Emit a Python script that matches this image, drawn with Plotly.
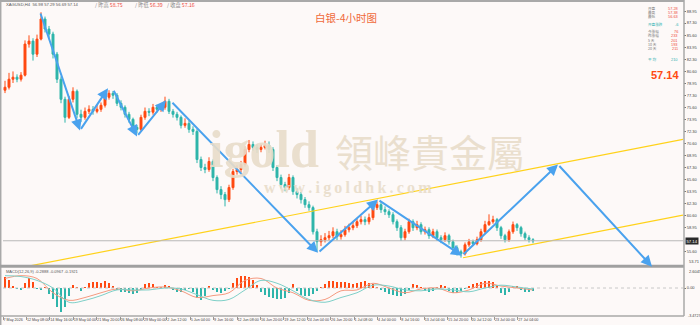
import plotly.graph_objects as go

W, H = 700, 325

# ---------------- data ----------------
first_open = 78.00
closes = [78.41, 79.52, 79.80, 79.52, 80.08, 84.39, 84.80, 82.99, 85.08, 87.86,
          86.47, 85.77, 82.99, 79.52, 76.74, 74.24, 76.74, 77.85, 74.66, 74.24,
          75.07, 75.35, 75.07, 75.35, 75.91, 77.02, 77.57, 77.30, 76.18, 75.63,
          74.66, 73.96, 72.85, 72.57, 74.24, 75.07, 74.95, 75.63, 75.35, 75.63,
          76.46, 75.07, 74.66, 74.24, 73.13, 73.40, 72.57, 72.29, 68.40, 67.29,
          67.01, 68.12, 65.90, 64.23, 63.54, 62.84, 64.51, 66.73, 67.01, 67.70,
          69.79, 70.48, 70.07, 69.79, 70.07, 70.35, 69.79, 67.29, 65.90, 64.92,
          64.51, 65.90, 63.95, 63.54, 62.84, 62.14, 61.73, 58.39, 57.00, 57.28,
          57.56, 57.84, 58.39, 57.70, 57.98, 58.67, 58.95, 59.23, 59.78, 60.06,
          59.78, 60.34, 61.73, 62.14, 61.45, 61.17, 60.75, 59.78, 58.95, 57.56,
          58.39, 59.78, 58.95, 59.37, 58.39, 58.67, 57.84, 58.39, 57.56, 57.28,
          57.84, 57.00, 56.17, 55.61, 55.33, 56.58, 57.00, 56.72, 57.28, 58.39,
          59.37, 59.78, 60.06, 58.95, 57.84, 57.28, 58.39, 59.37, 58.95, 58.12,
          57.56, 57.28, 57.14]
highs = [79.3, 80.4, 80.6, 80.2, 80.5, 84.9, 85.6, 85.2, 85.7, 88.8,
         88.2, 86.9, 86.1, 83.3, 79.9, 77.1, 77.2, 78.4, 78.1, 75.3,
         75.6, 75.9, 75.8, 76.0, 76.3, 77.5, 78.0, 77.9, 77.6, 76.6,
         75.9, 75.0, 74.2, 73.2, 74.6, 75.6, 75.5, 76.1, 76.0, 76.2,
         77.1, 76.8, 75.4, 75.0, 74.5, 74.1, 73.8, 73.0, 72.6, 68.8,
         67.8, 68.7, 68.4, 66.2, 64.7, 63.9, 64.9, 67.1, 67.6, 68.2,
         70.2, 71.1, 70.9, 70.5, 70.6, 71.0, 70.9, 70.1, 67.6, 66.3,
         65.3, 66.4, 66.2, 64.4, 63.9, 63.2, 62.6, 62.0, 58.8, 57.9,
         58.2, 58.5, 59.0, 58.8, 58.6, 59.2, 59.5, 59.8, 60.3, 60.6,
         60.5, 60.9, 62.3, 62.6, 62.5, 61.9, 61.5, 61.1, 60.1, 59.3,
         58.8, 60.2, 60.1, 59.9, 59.7, 59.1, 59.0, 58.8, 58.7, 57.9,
         58.3, 58.1, 57.3, 56.5, 55.9, 56.9, 57.4, 57.3, 57.7, 58.8,
         59.9, 60.8, 60.6, 60.3, 59.2, 58.1, 58.7, 59.8, 59.6, 59.2,
         58.4, 57.9, 57.5]
lows = [77.6, 78.1, 79.0, 79.1, 79.2, 79.9, 83.9, 82.1, 82.6, 84.9,
        86.0, 85.2, 82.4, 79.0, 76.2, 73.5, 74.0, 76.3, 74.1, 73.6,
        73.9, 74.7, 74.6, 74.8, 75.0, 75.6, 76.7, 76.8, 75.8, 75.2,
        74.2, 73.5, 72.4, 72.0, 72.3, 73.9, 74.4, 74.6, 74.9, 75.0,
        75.3, 74.7, 74.2, 73.8, 72.7, 72.8, 72.1, 71.8, 67.9, 66.8,
        66.5, 66.7, 65.4, 63.7, 62.9, 61.9, 62.5, 64.2, 66.3, 66.6,
        67.4, 69.4, 69.6, 69.3, 69.4, 69.8, 69.3, 66.8, 65.4, 64.4,
        64.0, 64.2, 63.5, 63.0, 62.3, 61.7, 61.3, 58.0, 55.6, 56.4,
        56.9, 57.2, 57.5, 57.2, 57.3, 57.7, 58.3, 58.6, 58.9, 59.4,
        59.3, 59.4, 60.0, 61.4, 61.0, 60.7, 60.3, 59.4, 58.5, 57.1,
        57.2, 58.1, 58.5, 58.6, 58.0, 58.0, 57.4, 57.5, 57.1, 56.8,
        57.0, 56.6, 55.8, 55.1, 54.8, 55.1, 56.3, 56.4, 56.5, 57.0,
        58.1, 59.2, 59.5, 58.5, 57.4, 56.9, 57.0, 58.1, 58.5, 57.7,
        57.2, 56.9, 56.8]
opens = [first_open] + closes[:-1]
bar_idx = list(range(len(closes)))

macd_hist = [1.42, 0.94, 0.24, -0.12, -0.24, 0.59, 1.18, 0.71, -0.12, -0.20,
             0.05, -0.70, -1.42, -2.36, -2.95, -2.36, -0.94, 0.35, 0.12, -0.35,
             0.05, 0.59, 0.71, 0.71, 0.66, 0.83, 0.59, 0.24, -0.24, -0.47,
             -0.50, -0.59, -0.80, -0.59, -0.20, 0.47, 0.59, 0.47, 0.10, 0.03,
             0.35, 0.20, -0.24, -0.47, -0.47, -0.24, -0.05, -0.47, -1.18, -1.53,
             -0.94, 0.30, -0.20, -0.47, -0.59, -0.35, -0.10, 0.59, 1.30, 1.53,
             1.53, 1.42, 0.94, 0.35, -0.47, -0.83, -1.06, -1.30, -1.42, -1.42,
             -1.18, -0.59, 0.47, -0.35, -0.83, -0.94, -0.94, -0.71, -0.35, 0.12,
             0.47, 0.83, 0.83, 0.71, 0.71, 0.80, 0.59, 0.47, 0.59, 0.71,
             0.83, 0.66, 0.47, 0.12, -0.24, -0.47, -0.71, -0.83, -0.94, -0.94,
             -0.71, -0.20, 0.47, 0.35, 0.10, -0.35, -0.47, -0.35, 0.10, 0.35,
             0.24, -0.35, -0.59, -0.59, -0.35, -0.10, 0.24, 0.47, 0.59, 0.71,
             0.83, 0.83, 0.71, 0.35, -0.59, -0.83, -0.47, 0.24, 0.20, -0.24,
             -0.47, -0.47, -0.35]
line_idx = list(range(0, 133, 4))
macd_main = [1.18, 1.53, 1.18, -0.59, -1.53, -1.18, -0.59, -0.12, -0.35, 0.00,
             0.12, -0.35, -1.18, -0.94, -0.59, 0.94, 1.18, 0.00, -0.59, -1.53,
             -1.42, -0.35, -0.24, 0.59, 0.00, -0.59, -0.12, 0.00, -0.59, -0.24,
             0.59, 0.24, 0.00, -0.24]
macd_signal = [1.53, 1.42, 0.94, 0.00, -1.77, -1.53, -0.94, -0.24, -0.24, -0.24,
               0.00, -0.12, -0.83, -1.53, -1.42, -0.24, 0.94, 0.59, -0.35, -1.42,
               -1.77, -1.18, -0.59, 0.35, 0.24, -0.24, -0.35, -0.12, -0.24, -0.47,
               0.00, 0.35, 0.12, -0.12]

# wave arrows (bar index, price) and segments between them
wave_i = [8.75, 18.75, 25.75, 27.0, 33.0, 40.25, 41.5, 78.25, 93.25, 114.25, 138.25, 161.75]
wave_p = [88.83, 72.43, 78.27, 78.13, 71.60, 76.60, 76.46, 55.47, 62.84, 55.06, 67.70, 53.55]
wave_segments = [(0, 1), (1, 2), (3, 4), (4, 5), (6, 7), (7, 8), (8, 9), (9, 10), (10, 11)]

# trend lines
upper_i = [6.25, 169.5]
upper_p = [53.66, 71.18]
lower_i = [114.5, 169.5]
lower_p = [54.78, 60.68]

last_price = 57.14
price_min, price_max = 53.71, 90.22
macd_min, macd_max = -3.4727, 2.6045

y_ticks = [88.95, 87.30, 85.60, 83.95, 82.30, 80.60, 78.95, 77.30, 75.60, 73.95,
           72.30, 70.60, 68.95, 67.30, 65.60, 63.95, 62.30, 60.60, 58.95, 55.60]
macd_ticks = [0.0]
macd_tick_text = ["0.00"]

x_tick_labels = ["7 May 2026", "12 May 08:00", "14 May 16:00", "19 May 04:00", "21 May 20:00",
                 "26 May 08:00", "29 May 00:00", "2 Jun 12:00", "5 Jun 04:00", "9 Jun 16:00",
                 "12 Jun 08:00", "16 Jun 20:00", "19 Jun 12:00", "24 Jun 04:00", "26 Jun 20:00",
                 "1 Jul 08:00", "4 Jul 00:00", "8 Jul 16:00", "13 Jul 04:00", "15 Jul 20:00",
                 "20 Jul 12:00", "23 Jul 00:00", "27 Jul 04:00"]
x_tick_step = 5.85
x_tick_pos = [k * x_tick_step - 0.5 for k in range(len(x_tick_labels))]

info_labels = ["开盘", "最高", "最低", "开盘涨跌", "今涨幅", "昨涨幅", "5 天", "10 天", "20 天", "平 均"]
info_values = ["57.28", "57.38", "56.63", "-6", "76", "233", "201", "193", "211", "210"]

# ---------------- styling ----------------
BG = "#fdf9f8"
UP = "#ff4a12"
DOWN = "#2fb5ab"
BLUE = "#4aa2ee"
GOLD = "#ffd21a"
GRID = "#a9a9a9"
SMALL = "Liberation Sans"

x0p, x1p = 3 / W, 683 / W
main_dom = [(H - 265.5) / H, (H - 2) / H]
macd_dom = [(H - 316) / H, (H - 267) / H]
XR = [-0.5, 169.5]

fig = go.Figure()

fig.add_trace(go.Candlestick(
    x=bar_idx, open=opens, high=highs, low=lows, close=closes,
    increasing=dict(line=dict(color=UP, width=1), fillcolor=UP),
    decreasing=dict(line=dict(color=DOWN, width=1), fillcolor=DOWN),
    whiskerwidth=0, xaxis="x", yaxis="y", showlegend=False, hoverinfo="skip"))

fig.add_trace(go.Scatter(x=upper_i, y=upper_p, mode="lines", line=dict(color=GOLD, width=1.2),
                         xaxis="x", yaxis="y", showlegend=False, hoverinfo="skip"))
fig.add_trace(go.Scatter(x=lower_i, y=lower_p, mode="lines", line=dict(color=GOLD, width=1.2),
                         xaxis="x", yaxis="y", showlegend=False, hoverinfo="skip"))
fig.add_trace(go.Scatter(x=XR, y=[last_price, last_price], mode="lines",
                         line=dict(color="#b8b8b8", width=1),
                         xaxis="x", yaxis="y", showlegend=False, hoverinfo="skip"))

# MACD
fig.add_trace(go.Scatter(x=XR, y=[0, 0], mode="lines", line=dict(color="#c8c8c8", width=1, dash="dot"),
                         xaxis="x2", yaxis="y2", showlegend=False, hoverinfo="skip"))
fig.add_trace(go.Bar(x=bar_idx, y=macd_hist, width=0.62,
                     marker=dict(color=[UP if v >= 0 else DOWN for v in macd_hist], line=dict(width=0)),
                     xaxis="x2", yaxis="y2", showlegend=False, hoverinfo="skip"))
fig.add_trace(go.Scatter(x=line_idx, y=macd_main, mode="lines", line=dict(color="#f59a80", width=1, shape="spline"),
                         xaxis="x2", yaxis="y2", showlegend=False, hoverinfo="skip"))
fig.add_trace(go.Scatter(x=line_idx, y=macd_signal, mode="lines", line=dict(color="#7fd0c8", width=1, shape="spline"),
                         xaxis="x2", yaxis="y2", showlegend=False, hoverinfo="skip"))

annotations = []
for a, b in wave_segments:
    annotations.append(dict(x=wave_i[b], y=wave_p[b], ax=wave_i[a], ay=wave_p[a],
                            xref="x", yref="y", axref="x", ayref="y", text="",
                            showarrow=True, arrowhead=2, arrowsize=1.1, arrowwidth=2,
                            arrowcolor=BLUE, standoff=0, startstandoff=0))

# watermark
WM = "#e9ddca"
annotations.append(dict(x=264 / W, y=(H - 149) / H, xref="paper", yref="paper", text="<b>igold</b>",
                        showarrow=False, font=dict(family="Liberation Serif", size=52, color=WM),
                        xanchor="center", yanchor="middle", opacity=0.9))
annotations.append(dict(x=430 / W, y=(H - 150) / H, xref="paper", yref="paper", text="領峰貴金屬",
                        showarrow=False, font=dict(family="Noto Sans CJK TC", size=38, color=WM),
                        xanchor="center", yanchor="middle", opacity=0.9))
annotations.append(dict(x=348 / W, y=(H - 188) / H, xref="paper", yref="paper",
                        text="<b>" + "\u2009".join("www.igoldhk.com") + "</b>",
                        showarrow=False, font=dict(family="Liberation Serif", size=16, color=WM),
                        xanchor="center", yanchor="middle", opacity=0.9))

# title
annotations.append(dict(x=346 / W, y=(H - 18) / H, xref="paper", yref="paper", text="白银-4小时图",
                        showarrow=False, font=dict(family="Noto Sans CJK SC", size=10.5, color="#f06a3a"),
                        xanchor="center", yanchor="middle"))

# top-left info
annotations.append(dict(x=4 / W, y=(H - 5) / H, xref="paper", yref="paper",
                        text="XAGUSD,H4  56.98 57.29 56.69 57.14", showarrow=False,
                        font=dict(family=SMALL, size=4.2, color="#555555"), xanchor="left", yanchor="middle"))
RED_T = "#ee4b3c"
for xs, lab, val in [(93, "/ 昨高", "58.75"), (133, "/ 昨低", "56.39"), (165, "/ 收盘", "57.16")]:
    annotations.append(dict(x=xs / W, y=(H - 5) / H, xref="paper", yref="paper",
                            text=f"<span style='color:#888888'>{lab}</span> <span style='color:{RED_T}'>{val}</span>",
                            showarrow=False, font=dict(family="Noto Sans CJK SC", size=5.2),
                            xanchor="left", yanchor="middle"))

# top-right info box
info_y = [8.3, 12.5, 16.8, 25, 31.7, 35.8, 40, 44.2, 48.4, 59.3]
for k, (lab, val) in enumerate(zip(info_labels, info_values)):
    teal = lab in ("开盘涨跌", "平 均")
    lc = "#2bb0b0" if teal else "#777777"
    vc = "#2bb0b0" if teal else RED_T
    annotations.append(dict(x=646 / W, y=(H - info_y[k]) / H, xref="paper", yref="paper", text=lab,
                            showarrow=False, font=dict(family="Noto Sans CJK SC", size=3.6, color=lc),
                            xanchor="left", yanchor="middle"))
    annotations.append(dict(x=680 / W, y=(H - info_y[k]) / H, xref="paper", yref="paper", text=val,
                            showarrow=False, font=dict(family=SMALL, size=3.9, color=vc),
                            xanchor="right", yanchor="middle"))
annotations.append(dict(x=681 / W, y=(H - 75) / H, xref="paper", yref="paper", text=f"<b>{last_price:.2f}</b>",
                        showarrow=False, font=dict(family="Liberation Sans", size=11, color="#ff4a12"),
                        xanchor="right", yanchor="middle"))

# price box on right axis
annotations.append(dict(x=685 / W, y=last_price, xref="paper", yref="y", text=f"{last_price:.2f}",
                        showarrow=False, font=dict(family=SMALL, size=4.2, color="#ffffff"),
                        bgcolor="#2a2a2a", borderpad=0.5, xanchor="left", yanchor="middle"))
# panel boundary labels (min of price panel, max/min of MACD panel)
tick_font = dict(family=SMALL, size=4, color="#444444")
annotations.append(dict(x=687 / W, y=price_min, xref="paper", yref="y", text=f"{price_min:.2f}",
                        showarrow=False, font=tick_font, xanchor="left", yanchor="bottom"))
annotations.append(dict(x=687 / W, y=macd_max, xref="paper", yref="y2", text=f"{macd_max:.4f}",
                        showarrow=False, font=tick_font, xanchor="left", yanchor="top"))
annotations.append(dict(x=685.5 / W, y=(H - 316) / H, xref="paper", yref="paper", text=f"{macd_min:.4f}",
                        showarrow=False, font=dict(family=SMALL, size=3.7, color="#444444"),
                        xanchor="left", yanchor="middle"))

# MACD label
annotations.append(dict(x=4 / W, y=(H - 271.5) / H, xref="paper", yref="paper",
                        text="MACD(12,26,9) -0.2888 -0.0967 -0.1921", showarrow=False,
                        font=dict(family=SMALL, size=4, color="#555555"), xanchor="left", yanchor="middle"))

shapes = [
    dict(type="line", xref="paper", yref="paper", x0=0, x1=684 / W, y0=1 - 1 / H, y1=1 - 1 / H,
         line=dict(color=GRID, width=2)),
    dict(type="line", xref="paper", yref="paper", x0=0.7 / W, x1=0.7 / W, y0=0, y1=1,
         line=dict(color=GRID, width=1.5)),
    dict(type="line", xref="paper", yref="paper", x0=0, x1=684 / W, y0=(H - 266.3) / H, y1=(H - 266.3) / H,
         line=dict(color="#a0a0a0", width=3)),
    dict(type="line", xref="paper", yref="paper", x0=0, x1=684 / W, y0=(H - 316) / H, y1=(H - 316) / H,
         line=dict(color=GRID, width=1.5)),
    dict(type="line", xref="paper", yref="paper", x0=684 / W, x1=684 / W, y0=(H - 316) / H, y1=1,
         line=dict(color=GRID, width=1.5)),
]

fig.update_layout(
    width=W, height=H, margin=dict(l=0, r=0, t=0, b=0),
    paper_bgcolor=BG, plot_bgcolor=BG, showlegend=False, bargap=0,
    xaxis=dict(domain=[x0p, x1p], range=XR, anchor="y", showgrid=False, zeroline=False,
               showticklabels=False, rangeslider=dict(visible=False), fixedrange=True),
    yaxis=dict(domain=main_dom, range=[price_min, price_max], side="right", anchor="x",
               tickvals=y_ticks, ticktext=[f"{v:.2f}" for v in y_ticks],
               showgrid=False, zeroline=False, ticks="outside", ticklen=2, tickcolor="#777777",
               tickfont=tick_font),
    xaxis2=dict(domain=[x0p, x1p], range=XR, anchor="y2", showgrid=False, zeroline=False,
                tickvals=x_tick_pos, ticktext=x_tick_labels, ticks="outside", ticklen=3,
                tickcolor="#999999", ticklabelposition="outside right",
                tickfont=dict(family=SMALL, size=3.7, color="#444444"), tickangle=0),
    yaxis2=dict(domain=macd_dom, range=[macd_min, macd_max], side="right", anchor="x2",
                tickvals=macd_ticks, ticktext=macd_tick_text, showgrid=False, zeroline=False,
                ticks="outside", ticklen=2, tickcolor="#777777", tickfont=tick_font),
    annotations=annotations, shapes=shapes,
)

fig.write_html("out.html")
